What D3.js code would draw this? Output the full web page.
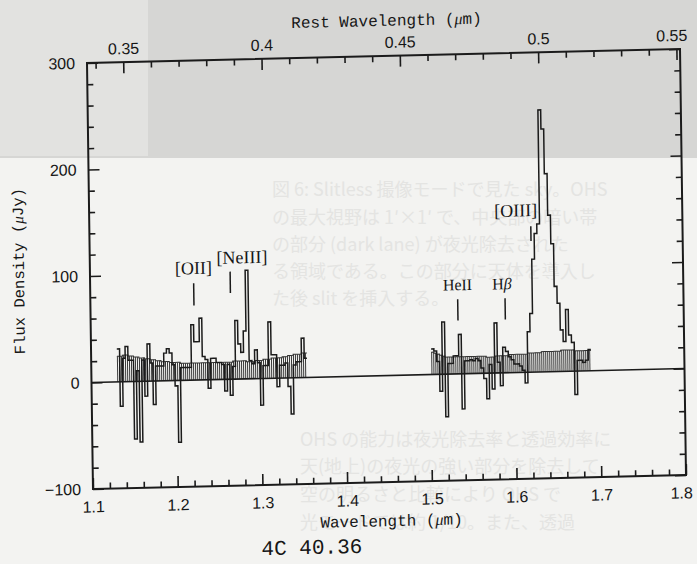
<!DOCTYPE html>
<html><head><meta charset="utf-8">
<script src="https://cdn.jsdelivr.net/npm/d3@7"></script>
<style>body{margin:0;background:#f4f4f2}svg{display:block}</style>
</head><body>
<svg id="c" width="697" height="564"></svg>
<script>
// ---------------- data ----------------
const redshift = 2.265;
const binStep = 0.00325;                 // micron per spectral bin
const jStart = 1.1304;                   // first J-band bin edge (micron)
const hStart = 1.5013;                   // first H-band bin edge (micron)
const jFlux = [31,-23,22,33,20,20,-54,10,-57,20,-14,35,17,-22,14,14,14,26,30,26,15,-5,-58,12,12,12,12,52,36,36,58,22,19,-8,20,20,16,16,14,-11,14,-15,12,55,33,25,45,102,17,14,27,15,-25,12,12,53,22,22,-8,12,12,14,-8,-34,12,15,15,37,18];
const jNoise = [24,24,25,25,24,24,23,23,22,22,21,21,20,20,19,19,18,18,18,17,17,17,17,16,16,16,16,16,16,16,16,16,16,16,16,16,16,16,16,16,16,16,17,17,17,17,17,16,16,16,17,17,17,18,18,18,19,19,19,19,20,20,21,21,22,22,22,23,23];
const hFlux = [24,22,12,-16,49,-40,10,10,17,17,37,-33,12,12,13,12,14,12,5,-5,-24,8,-15,47,10,-12,24,20,15,12,8,8,6,2,-10,38,55,106,130,139,246,228,186,147,120,80,64,39,28,58,34,27,-22,10,10,8,10,20];
const hNoise = [21,20,19,18,17,16,16,16,16,16,16,16,16,16,16,16,16,16,16,16,15,15,15,16,16,16,16,16,17,17,17,17,17,17,17,18,18,18,18,18,19,19,19,19,19,19,19,20,20,20,20,20,19,19,19,19,19,19];
const obsTicks = [1.1,1.2,1.3,1.4,1.5,1.6,1.7,1.8];
const restTicks = [0.35,0.4,0.45,0.5,0.55];
const fluxTicks = [-100,0,100,200,300];
const lineNames = ["[OII]","[NeIII]","HeII","Hβ","[OIII]"];
const lineObs = [1.2222,1.2654,1.5335,1.5894,1.6210];
const lineTickTop = [91,101,70,70,137];
const lineTickBottom = [70,81,50,50,123];
const ghostText = [
  "図 6: Slitless 撮像モードで見た sky。OHS",
  "の最大視野は 1′×1′ で、中央部の暗い帯",
  "の部分 (dark lane) が夜光除去された",
  "る領域である。この部分に天体を導入し",
  "た後 slit を挿入する。",
  "OHS の能力は夜光除去率と透過効率に",
  "天(地上)の夜光の強い部分を除去して",
  "空の明るさと比較により OHS で",
  "光モードでは約 1/10。また、透過"
];

// ---------------- layout ----------------
const W = 697, H = 564;
const L = 90, R = 683, T = 56, B = 481;
const x = d3.scaleLinear().domain([1.1, 1.8]).range([L, R]);
const xRest = d3.scaleLinear().domain([1.1/(1+redshift), 1.8/(1+redshift)]).range([L, R]);
const y = d3.scaleLinear().domain([-100, 300]).range([B, T]);

const svg = d3.select("#c");
svg.append("rect").attr("width", W).attr("height", H).attr("fill", "#f3f3f1");
svg.append("rect").attr("x", 0).attr("y", 0).attr("width", W).attr("height", 158).attr("fill", "#d6d6d4");
svg.append("rect").attr("x", 0).attr("y", 0).attr("width", 148).attr("height", 156).attr("fill", "#e2e2e0");

// faint bleed-through text of the photographed page
const ghostPos = [[272,196],[272,224],[272,251],[272,278],[272,305],[300,446],[300,473],[300,501],[300,529]];
svg.append("g").selectAll("text").data(ghostText).join("text")
  .attr("x", (d,i) => ghostPos[i][0]).attr("y", (d,i) => ghostPos[i][1])
  .attr("font-family", "'Noto Sans CJK JP', sans-serif").attr("font-size", 18)
  .attr("fill", "#e4e4e2").text(d => d);

// photographed page is slightly tilted / sheared
const g = svg.append("g").attr("transform", "matrix(1,-0.0236,0.0141,1.0024,-3.79,8.99)");
const ink = "#1b1b1b";

function band(start, flux, noise) {
  const edges = flux.map((_, i) => start + i * binStep);
  const end = start + flux.length * binStep;
  // hatched noise level
  const hg = g.append("g").attr("stroke", "#3a3a3a").attr("stroke-width", 1);
  for (let px = x(start) + 0.5; px < x(end); px += 2.0) {
    const i = Math.min(noise.length - 1, Math.floor((x.invert(px) - start) / binStep));
    hg.append("line").attr("x1", px).attr("x2", px).attr("y1", y(0)).attr("y2", y(noise[i]));
  }
  const step = d3.line().curve(d3.curveStepAfter).x(d => x(d[0])).y(d => y(d[1]));
  const nPts = noise.map((v, i) => [edges[i], v]).concat([[end, noise[noise.length-1]]]);
  g.append("path").attr("d", step(nPts)).attr("fill", "none").attr("stroke", "#333").attr("stroke-width", 1);
  const fPts = flux.map((v, i) => [edges[i], v]).concat([[end, flux[flux.length-1]]]);
  g.append("path").attr("d", step(fPts)).attr("fill", "none").attr("stroke", ink)
    .attr("stroke-width", 1.5).attr("stroke-linejoin", "miter");
}
band(jStart, jFlux, jNoise);
band(hStart, hFlux, hNoise);

// zero line
g.append("line").attr("x1", L).attr("x2", R).attr("y1", y(0)).attr("y2", y(0))
  .attr("stroke", ink).attr("stroke-width", 1.6);

// axes
const tickFont = "'Liberation Sans', Arial, sans-serif";
function styleAxis(sel) {
  sel.select(".domain").remove();
  sel.selectAll(".tick line").attr("stroke", ink).attr("stroke-width", 1.6);
  sel.selectAll(".tick text").attr("fill", "#161616").attr("font-family", tickFont).attr("font-size", 16);
}
const range = (a, b, s) => d3.range(Math.round(a/s), Math.round(b/s) + 1).map(k => +(k*s).toFixed(4));
const obsMinor = range(1.1, 1.8, 0.02).filter(v => !obsTicks.some(t => Math.abs(t - v) < 1e-6));
const restMinor = range(0.34, 0.55, 0.01).filter(v => !restTicks.some(t => Math.abs(t - v) < 1e-6));
const fluxMinor = range(-100, 300, 20).filter(v => !fluxTicks.includes(v));

g.append("g").attr("transform", `translate(0,${B})`)
  .call(d3.axisBottom(x).tickValues(obsMinor).tickSize(-6).tickFormat("")).call(styleAxis);
const bottomAx = g.append("g").attr("transform", `translate(0,${B})`)
  .call(d3.axisBottom(x).tickValues(obsTicks).tickSize(-11).tickPadding(12).tickFormat(d3.format(".1f"))).call(styleAxis);
bottomAx.selectAll(".tick text").filter(d => d === 1.8).attr("dx", -5);
g.append("g").attr("transform", `translate(0,${T})`)
  .call(d3.axisTop(xRest).tickValues(restMinor).tickSize(-6).tickFormat("")).call(styleAxis);
const topAx = g.append("g").attr("transform", `translate(0,${T})`)
  .call(d3.axisTop(xRest).tickValues(restTicks).tickSize(-11).tickPadding(8).tickFormat(d => String(d))).call(styleAxis);
topAx.selectAll(".tick text").filter(d => d === 0.55).attr("dx", -5);
g.append("g").attr("transform", `translate(${L},0)`)
  .call(d3.axisLeft(y).tickValues(fluxMinor).tickSize(-6).tickFormat("")).call(styleAxis);
g.append("g").attr("transform", `translate(${L},0)`)
  .call(d3.axisLeft(y).tickValues(fluxTicks).tickSize(-11).tickPadding(12).tickFormat(d3.format("d"))).call(styleAxis);
g.append("g").attr("transform", `translate(${R},0)`)
  .call(d3.axisRight(y).tickValues(fluxMinor).tickSize(-6).tickFormat("")).call(styleAxis);
g.append("g").attr("transform", `translate(${R},0)`)
  .call(d3.axisRight(y).tickValues(fluxTicks).tickSize(-11).tickFormat("")).call(styleAxis);

g.append("rect").attr("x", L).attr("y", T).attr("width", R - L).attr("height", B - T)
  .attr("fill", "none").attr("stroke", ink).attr("stroke-width", 2);

// axis titles
const mono = "'Liberation Mono', 'DejaVu Sans Mono', monospace";
function title(t, px, py, rot, size) {
  const el = g.append("text").attr("x", px).attr("y", py).attr("text-anchor", "middle")
    .attr("font-family", mono).attr("font-size", size).attr("fill", "#161616");
  if (rot) el.attr("transform", `rotate(${rot} ${px} ${py})`);
  const parts = t.split("μ");
  el.append("tspan").text(parts[0]);
  if (parts.length > 1) {
    el.append("tspan").attr("font-style", "italic").attr("font-family", "'Liberation Serif', serif").text("μ");
    el.append("tspan").text(parts[1]);
  }
  return el;
}
title("Rest Wavelength (μm)", 390, 26, 0, 16);
title("Wavelength (μm)", 388, 525, 0, 16);
title("Flux Density (μJy)", 24, 262, -90, 15.5);
title("4C 40.36", 308, 551, 0, 21);

// emission line markers
const labelDx = [0, 12, 0, -3, -15];
const labelGap = [9, 8, 9, 9, 10];
lineNames.forEach((name, i) => {
  const px = x(lineObs[i]);
  g.append("line").attr("x1", px).attr("x2", px)
    .attr("y1", y(lineTickTop[i])).attr("y2", y(lineTickBottom[i]))
    .attr("stroke", ink).attr("stroke-width", 1.5);
  const t = g.append("text").attr("x", px + labelDx[i]).attr("y", y(lineTickTop[i]) - labelGap[i])
    .attr("text-anchor", "middle").attr("font-family", "'Liberation Serif', 'Times New Roman', serif")
    .attr("font-size", name === "HeII" || name === "Hβ" ? 16 : 18).attr("fill", "#161616");
  if (name === "Hβ") {
    t.append("tspan").text("H");
    t.append("tspan").attr("font-style", "italic").text("β");
  } else t.text(name);
});
</script>
</body></html>
